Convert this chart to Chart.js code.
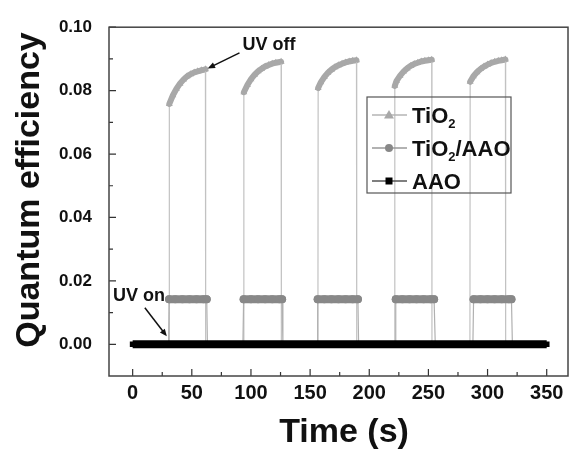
<!DOCTYPE html>
<html>
<head>
<meta charset="utf-8">
<script src="https://cdn.jsdelivr.net/npm/chart.js@4.4.1/dist/chart.umd.min.js"></script>
<style>
  html, body { margin: 0; background: #fff; }
</style>
</head>
<body>
<canvas id="qe" width="572" height="451"></canvas>
<script>
// TiO2 (light grey triangles): baseline, then five UV pulses
const tio2Time = [0,
  30.8, 31, 34, 37, 40, 43, 46, 49, 52, 55, 58, 61.5, 61.7,
  93.8, 94, 97, 100, 103, 106, 109, 112, 115, 118, 121, 125.5, 125.7,
  156.6, 156.8, 159, 162, 165, 168, 171, 174, 177, 180, 183, 186, 189.2, 189.4,
  221.4, 221.6, 223, 226, 229, 232, 235, 238, 241, 244, 247, 250, 252.8, 253,
  285.1, 285.3, 288, 291, 294, 297, 300, 303, 306, 309, 312, 315.1, 315.3,
  350];
const tio2Qe = [0,
  0, 0.0758, 0.0785, 0.0806, 0.0822, 0.0835, 0.0845, 0.0852, 0.0857, 0.0861, 0.0864, 0.0867, 0,
  0, 0.0795, 0.0818, 0.0836, 0.0850, 0.0861, 0.0869, 0.0876, 0.0881, 0.0885, 0.0888, 0.0891, 0,
  0, 0.0808, 0.0826, 0.0843, 0.0856, 0.0866, 0.0874, 0.0880, 0.0885, 0.0889, 0.0892, 0.0894, 0.0896, 0,
  0, 0.0815, 0.0830, 0.0847, 0.0860, 0.0870, 0.0878, 0.0884, 0.0888, 0.0892, 0.0894, 0.0896, 0.0897, 0,
  0, 0.0828, 0.0845, 0.0858, 0.0868, 0.0876, 0.0882, 0.0887, 0.0891, 0.0894, 0.0896, 0.0898, 0,
  0];

// TiO2/AAO (grey circles)
const tio2AaoTime = [0,
  30.4, 30.8, 36, 42, 48, 54, 60, 62.6, 63.2,
  93.2, 93.8, 100, 106, 112, 118, 124, 126.3, 127,
  156.0, 156.4, 162, 168, 174, 180, 186, 190.4, 191,
  221.8, 222.4, 228, 234, 240, 246, 252, 254.8, 255.8,
  287.6, 288.2, 294, 300, 306, 312, 318, 320.2, 321,
  350];
const tio2AaoQe = [0,
  0, 0.0142, 0.0142, 0.0142, 0.0142, 0.0142, 0.0142, 0.0142, 0,
  0, 0.0142, 0.0142, 0.0142, 0.0142, 0.0142, 0.0142, 0.0142, 0,
  0, 0.0142, 0.0142, 0.0142, 0.0142, 0.0142, 0.0142, 0.0142, 0,
  0, 0.0142, 0.0142, 0.0142, 0.0142, 0.0142, 0.0142, 0.0142, 0,
  0, 0.0142, 0.0142, 0.0142, 0.0142, 0.0142, 0.0142, 0.0142, 0,
  0];

// AAO (black squares), flat at zero
const aaoTime = [0, 25, 50, 75, 100, 125, 150, 175, 200, 225, 250, 275, 300, 325, 350];
const aaoQe = [0, 0, 0, 0, 0, 0, 0, 0, 0, 0, 0, 0, 0, 0, 0];

const xTicks = [0, 50, 100, 150, 200, 250, 300, 350];
const xMinor = [25, 75, 125, 175, 225, 275, 325];
const yTicks = [0, 0.02, 0.04, 0.06, 0.08, 0.10];
const yMinor = [0.01, 0.03, 0.05, 0.07, 0.09];

const FONT = "'Liberation Sans', Arial, Helvetica, sans-serif";

function points(xs, ys) {
  return xs.map((t, i) => ({ x: t, y: ys[i] }));
}

const on = (c, lim) => c.p0.parsed.y > lim && c.p1.parsed.y > lim;

// inner tick marks, frame, axis titles, annotations, legend
const decor = {
  id: "decor",
  afterDraw(chart) {
    const { ctx, chartArea: a, scales: { x, y } } = chart;
    ctx.save();
    ctx.strokeStyle = "#333";
    ctx.lineWidth = 1.2;
    ctx.beginPath();
    xTicks.forEach((v) => { const px = x.getPixelForValue(v); ctx.moveTo(px, a.bottom); ctx.lineTo(px, a.bottom - 7); });
    xMinor.forEach((v) => { const px = x.getPixelForValue(v); ctx.moveTo(px, a.bottom); ctx.lineTo(px, a.bottom - 4); });
    yTicks.forEach((v) => { const py = y.getPixelForValue(v); ctx.moveTo(a.left, py); ctx.lineTo(a.left + 7, py); });
    yMinor.forEach((v) => { const py = y.getPixelForValue(v); ctx.moveTo(a.left, py); ctx.lineTo(a.left + 4, py); });
    ctx.stroke();

    ctx.strokeStyle = "#444";
    ctx.lineWidth = 1.5;
    ctx.strokeRect(a.left, a.top, a.right - a.left, a.bottom - a.top);

    // axis titles
    ctx.fillStyle = "#111";
    ctx.font = `bold 34px ${FONT}`;
    ctx.textAlign = "center";
    ctx.textBaseline = "alphabetic";
    ctx.fillText("Time (s)", 344, 442);
    ctx.save();
    ctx.translate(39, 190);
    ctx.rotate(-Math.PI / 2);
    ctx.fillText("Quantum efficiency", 0, 0);
    ctx.restore();

    // annotations
    ctx.font = `bold 18px ${FONT}`;
    ctx.textAlign = "left";
    ctx.textBaseline = "middle";
    ctx.fillText("UV off", x.getPixelForValue(92.8), y.getPixelForValue(0.0944));
    ctx.fillText("UV on", x.getPixelForValue(-16.6), y.getPixelForValue(0.0152));
    arrow(ctx, x.getPixelForValue(90.3), y.getPixelForValue(0.0919), x.getPixelForValue(63.4), y.getPixelForValue(0.0870));
    arrow(ctx, x.getPixelForValue(10.3), y.getPixelForValue(0.0115), x.getPixelForValue(28.9), y.getPixelForValue(0.0025));

    drawLegend(ctx, chart);
    ctx.restore();
  },
};

function arrow(ctx, x0, y0, x1, y1) {
  const ang = Math.atan2(y1 - y0, x1 - x0);
  const len = 8;
  ctx.strokeStyle = "#111";
  ctx.fillStyle = "#111";
  ctx.lineWidth = 1.5;
  ctx.beginPath();
  ctx.moveTo(x0, y0);
  ctx.lineTo(x1 - Math.cos(ang) * len * 0.8, y1 - Math.sin(ang) * len * 0.8);
  ctx.stroke();
  ctx.beginPath();
  ctx.moveTo(x1, y1);
  ctx.lineTo(x1 - len * Math.cos(ang - 0.4), y1 - len * Math.sin(ang - 0.4));
  ctx.lineTo(x1 - len * Math.cos(ang + 0.4), y1 - len * Math.sin(ang + 0.4));
  ctx.closePath();
  ctx.fill();
}

function drawLegend(ctx, chart) {
  const rows = [115, 148, 181];
  ctx.strokeStyle = "#555";
  ctx.lineWidth = 1.2;
  ctx.strokeRect(367, 97, 144, 96);
  chart.data.datasets.forEach((ds, i) => {
    const ry = rows[i];
    ctx.strokeStyle = ds.legendLine;
    ctx.lineWidth = 1.3;
    ctx.beginPath();
    ctx.moveTo(372, ry);
    ctx.lineTo(407, ry);
    ctx.stroke();
    ctx.fillStyle = ds.pointBackgroundColor;
    ctx.beginPath();
    if (ds.pointStyle === "triangle") {
      ctx.moveTo(389, ry - 5); ctx.lineTo(394, ry + 3.5); ctx.lineTo(384, ry + 3.5); ctx.closePath();
    } else if (ds.pointStyle === "circle") {
      ctx.arc(389, ry, 4, 0, Math.PI * 2);
    } else {
      ctx.rect(385.5, ry - 3.5, 7, 7);
    }
    ctx.fill();

    // label with subscript digits
    let tx = 412;
    const base = ry + 8;
    ctx.fillStyle = "#111";
    ctx.textAlign = "left";
    ctx.textBaseline = "alphabetic";
    ds.label.split(/(\d)/).filter(Boolean).forEach((part) => {
      if (/^\d$/.test(part)) {
        ctx.font = `bold 13px ${FONT}`;
        ctx.fillText(part, tx, base + 5);
      } else {
        ctx.font = `bold 22px ${FONT}`;
        ctx.fillText(part, tx, base);
      }
      tx += ctx.measureText(part).width;
    });
  });
}

new Chart(document.getElementById("qe"), {
  type: "line",
  data: {
    datasets: [
      {
        label: "TiO2",
        data: points(tio2Time, tio2Qe),
        order: 3,
        pointStyle: "triangle",
        pointRadius: (c) => (c.raw && c.raw.y > 0.05 ? 4 : 0),
        pointBackgroundColor: "#a8a8a8",
        pointBorderWidth: 0,
        borderColor: "#c2c2c2",
        legendLine: "#b5b5b5",
        borderWidth: 1.2,
        segment: {
          borderWidth: (c) => (on(c, 0.05) ? 6 : 1.2),
          borderColor: (c) => (on(c, 0.05) ? "#a8a8a8" : "#c2c2c2"),
        },
      },
      {
        label: "TiO2/AAO",
        data: points(tio2AaoTime, tio2AaoQe),
        order: 2,
        pointStyle: "circle",
        pointRadius: (c) => (c.raw && c.raw.y > 0.01 ? 4 : 0),
        pointBackgroundColor: "#888",
        pointBorderWidth: 0,
        borderColor: "#b0b0b0",
        legendLine: "#999",
        borderWidth: 1.2,
        segment: {
          borderWidth: (c) => (on(c, 0.01) ? 8 : 1.2),
          borderColor: (c) => (on(c, 0.01) ? "#888" : "#b0b0b0"),
        },
      },
      {
        label: "AAO",
        data: points(aaoTime, aaoQe),
        order: 1,
        pointStyle: "rect",
        pointRadius: 4,
        pointBackgroundColor: "#000",
        pointBorderWidth: 0,
        borderColor: "#000",
        borderCapStyle: "butt",
        legendLine: "#555",
        borderWidth: 8,
      },
    ],
  },
  options: {
    responsive: false,
    animation: false,
    devicePixelRatio: 1,
    layout: { padding: { top: 22, right: 2, left: 0, bottom: 0 } },
    plugins: { legend: { display: false }, tooltip: { enabled: false } },
    elements: { line: { tension: 0, borderCapStyle: "round" } },
    scales: {
      x: {
        type: "linear",
        min: -20,
        max: 368,
        grid: { display: false, drawTicks: false },
        border: { display: false },
        afterFit: (s) => { s.height = 75; },
        afterBuildTicks: (s) => { s.ticks = xTicks.map((v) => ({ value: v })); },
        ticks: {
          padding: 5,
          maxRotation: 0,
          color: "#111",
          font: { family: FONT, size: 20, weight: "bold" },
        },
      },
      y: {
        min: -0.01,
        max: 0.10,
        grid: { display: false, drawTicks: false },
        border: { display: false },
        afterFit: (s) => { s.width = 109; },
        afterBuildTicks: (s) => { s.ticks = yTicks.map((v) => ({ value: v })); },
        ticks: {
          padding: 17,
          color: "#111",
          font: { family: FONT, size: 17, weight: "bold" },
          callback: (v) => v.toFixed(2),
        },
      },
    },
  },
  plugins: [decor],
});
</script>
</body>
</html>
